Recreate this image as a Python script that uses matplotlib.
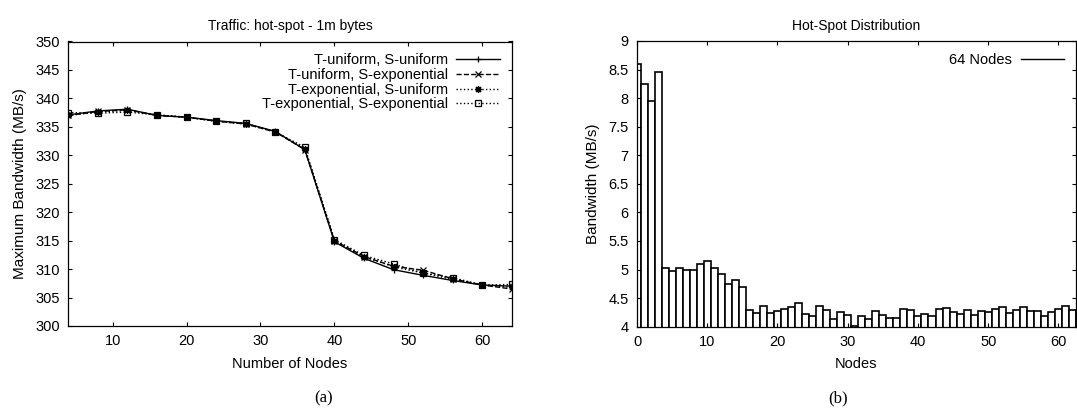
import matplotlib.pyplot as plt
from matplotlib.lines import Line2D

plt.rcParams['font.family'] = ['Liberation Sans', 'DejaVu Sans']
plt.rcParams['font.size'] = 10

# (a) maximum bandwidth vs number of nodes
nodes = [4, 8, 12, 16, 20, 24, 28, 32, 36, 40, 44, 48, 52, 56, 60, 64]
uni_uni = [337.1, 337.8, 338.1, 337.0, 336.7, 336.1, 335.6, 334.2, 331.0,
           314.8, 311.9, 309.9, 308.9, 308.0, 307.2, 307.0]
uni_exp = [337.0, 337.7, 338.0, 337.0, 336.7, 336.0, 335.5, 334.1, 331.0,
           315.0, 312.2, 310.5, 309.8, 308.3, 307.2, 306.5]
exp_uni = [337.0, 337.6, 337.9, 337.1, 336.7, 336.0, 335.5, 334.1, 331.1,
           315.0, 312.2, 310.4, 309.3, 308.2, 307.2, 306.8]
exp_exp = [337.5, 337.4, 337.6, 337.1, 336.7, 336.0, 335.6, 334.1, 331.4,
           315.2, 312.4, 310.9, 309.3, 308.5, 307.2, 307.3]
series_labels = ["T-uniform, S-uniform", "T-uniform, S-exponential",
                 "T-exponential, S-uniform", "T-exponential, S-exponential"]

# (b) hot-spot distribution, bandwidth per node (64 nodes)
bw = [8.59, 8.24, 7.95, 8.45, 5.02, 4.97, 5.03, 4.99, 5.00, 5.09,
      5.15, 5.02, 4.92, 4.74, 4.82, 4.69, 4.29, 4.235, 4.36, 4.235,
      4.27, 4.31, 4.35, 4.41, 4.23, 4.18, 4.37, 4.29, 4.13, 4.26,
      4.21, 4.01, 4.19, 4.13, 4.28, 4.20, 4.16, 4.15, 4.31, 4.29,
      4.19, 4.22, 4.18, 4.31, 4.33, 4.25, 4.22, 4.29, 4.21, 4.27,
      4.26, 4.31, 4.35, 4.24, 4.29, 4.34, 4.28, 4.28, 4.19, 4.26,
      4.31, 4.37, 4.29, 4.30]


def gnuplot_axes(ax):
    ax.tick_params(direction='in', length=3, width=0.8, top=True, right=True,
                   labelsize=10.5, pad=6)
    for s in ax.spines.values():
        s.set_linewidth(0.9)


W, H = 1077, 417
fig = plt.figure(figsize=(W / 100, H / 100), dpi=100)

ax1 = fig.add_axes([68.3 / W, 1 - 326 / H, 443.5 / W, 284.5 / H])
styles = [('-', '+'), ('--', 'x'), (':', (8, 2, 0)), (':', 's')]
for vals, lab, (ls, mk) in zip([uni_uni, uni_exp, exp_uni, exp_exp], series_labels, styles):
    ax1.plot(nodes, vals, color='black', linestyle=ls, linewidth=1.0, marker=mk,
             markersize=5, markerfacecolor='none', markeredgewidth=0.9, label=lab)
ax1.set_xlim(4, 64)
ax1.set_ylim(300, 350)
ax1.set_xticks(range(10, 61, 10))
ax1.set_yticks(range(300, 351, 5))
gnuplot_axes(ax1)
ax1.set_xlabel("Number of Nodes", fontsize=10.5, labelpad=6)
ax1.set_ylabel("Maximum Bandwidth (MB/s)", fontsize=11, labelpad=6)
ax1.set_title("Traffic: hot-spot - 1m bytes", fontsize=10, pad=8)
ax1.legend(loc='upper right', frameon=False, markerfirst=False, fontsize=10.5,
           handlelength=3.0, labelspacing=0.05, borderaxespad=0.4, handletextpad=0.6)

ax2 = fig.add_axes([637 / W, 1 - 326.7 / H, 439 / W, 285.7 / H])
ax2.bar(range(len(bw)), bw, width=1.0, color='white', edgecolor='black', linewidth=1.2)
ax2.set_xlim(0, 62.5)
ax2.set_ylim(4, 9)
ax2.set_xticks(range(0, 61, 10))
ax2.set_yticks([4, 4.5, 5, 5.5, 6, 6.5, 7, 7.5, 8, 8.5, 9])
ax2.set_yticklabels(['4', '4.5', '5', '5.5', '6', '6.5', '7', '7.5', '8', '8.5', '9'])
gnuplot_axes(ax2)
ax2.set_xlabel("Nodes", fontsize=10.5, labelpad=6)
ax2.set_ylabel("Bandwidth (MB/s)", fontsize=11, labelpad=6)
ax2.set_title("Hot-Spot Distribution", fontsize=10, pad=8)
ax2.legend([Line2D([], [], color='black', linewidth=1.0)], ["64 Nodes"],
           loc='upper right', frameon=False, markerfirst=False, fontsize=10.5,
           handlelength=3.0, borderaxespad=0.4, handletextpad=0.6)

fig.text(324 / W, 1 - 398 / H, "(a)", family='Liberation Serif', fontsize=12,
         ha='center', va='center')
fig.text(838 / W, 1 - 398 / H, "(b)", family='Liberation Serif', fontsize=12,
         ha='center', va='center')

fig.savefig("out.png", dpi=100)
